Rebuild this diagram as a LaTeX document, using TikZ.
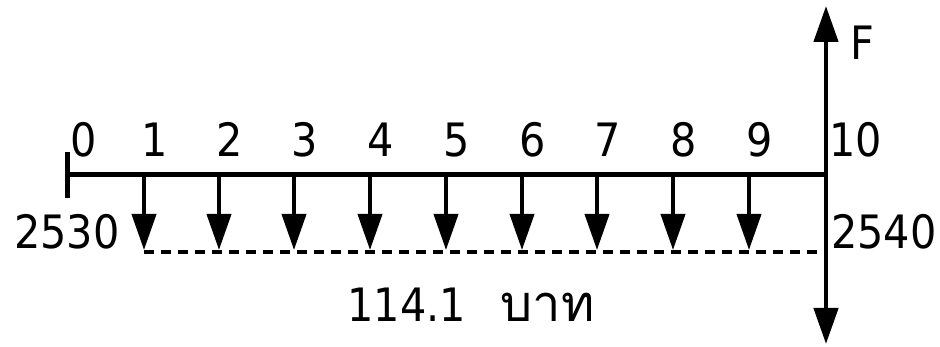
\documentclass[tikz,border=0pt]{standalone}
\usepackage{fontspec}
\setmainfont{DejaVu Sans}[FakeStretch=0.9]
\newfontfamily\thaifont[Script=Thai,Scale=1.1]{Loma}
\usetikzlibrary{arrows.meta}
\tikzset{
  lbl/.style={font=\fontsize{46}{50}\selectfont, inner sep=0pt, anchor=base},
  axis/.style={line width=5pt},
  flow/.style={line width=4pt, -{Triangle[length=36pt,width=24pt]}},
  dashline/.style={line width=4pt, dash pattern=on 10pt off 7pt},
}
\begin{document}
\begin{tikzpicture}[x=1pt,y=-1pt]
\useasboundingbox (0,0) rectangle (940,347);
% axis
\coordinate (t0) at (67,175);
\coordinate (t10) at (826,175);
\draw[axis] (t0) -- (t10);
\coordinate (tickA) at (67,152);
\coordinate (tickB) at (67,198);
\draw[axis] (tickA) -- (tickB);
% vertical double arrow
\coordinate (vtop) at (826,6);
\coordinate (vbot) at (826,344);
\draw[line width=4.5pt, {Triangle[length=36pt,width=24pt]}-{Triangle[length=36pt,width=24pt]}] (vbot) -- (vtop);
% down arrows
\foreach \i/\x in {1/144,2/219,3/294,4/370,5/446,6/522,7/597,8/673,9/749}{
  \coordinate (a\i) at (\x,175);
  \coordinate (b\i) at (\x,250);
  \draw[flow] (a\i) -- (b\i);
  \node[lbl] (n\i) at (\x+11,157) {\i};
}
\node[lbl] (n0) at (84,157) {0};
\node[lbl] (n10) at (856,157) {10};
% dashed
\coordinate (d0) at (144,252);
\coordinate (d1) at (826,252);
\draw[dashline] (d0) -- (d1);
% labels
\node[lbl] (y0) at (67,249) {2530};
\node[lbl] (y1) at (884,249) {2540};
\node[lbl] (F) at (862,60) {F};
\node[lbl] (amt) at (471,322) {114.1\hspace{0.75em}{\thaifont บาท}};
\end{tikzpicture}
\end{document}
